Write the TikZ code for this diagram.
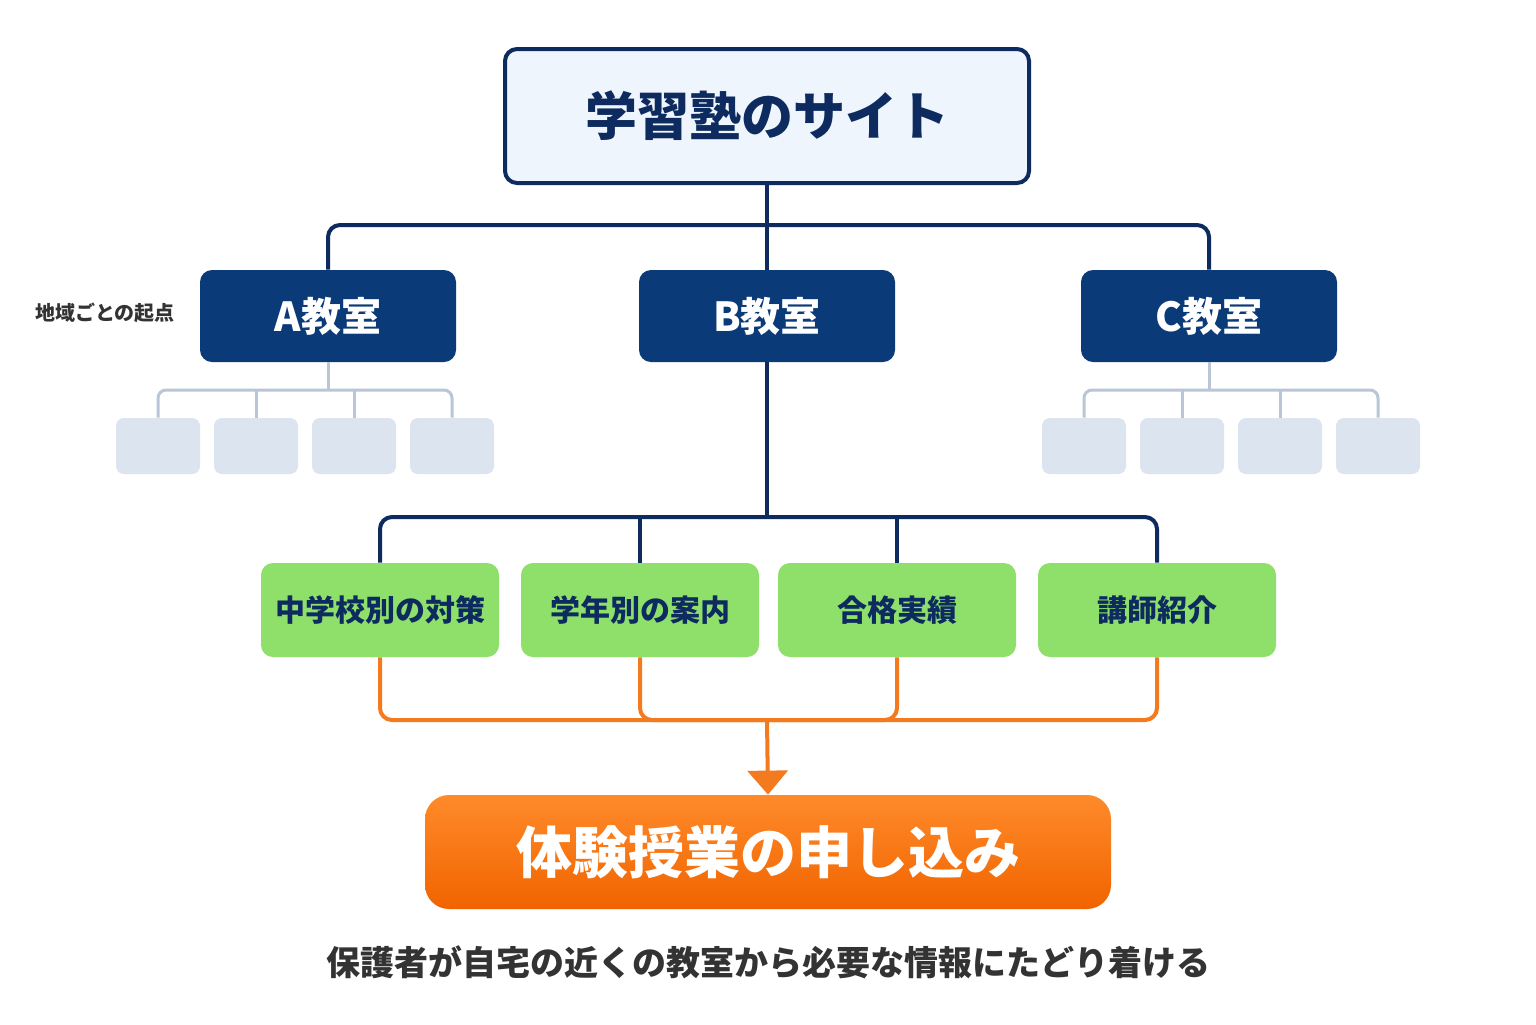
\documentclass[tikz,border=0pt]{standalone}
\usepackage{fontspec}
\newfontfamily\cjk{Noto Sans CJK JP}
\usetikzlibrary{positioning}
\usetikzlibrary{arrows.meta}
\definecolor{navy}{HTML}{0D2B5E}
\definecolor{roomblue}{HTML}{0B3A78}
\definecolor{topfill}{HTML}{EEF5FD}
\definecolor{greyfill}{HTML}{DCE4EF}
\definecolor{greyline}{HTML}{B8C6D8}
\definecolor{greenfill}{HTML}{8EE06A}
\definecolor{orangeline}{HTML}{F47A1F}
\definecolor{orangetop}{HTML}{FF8A2A}
\definecolor{orangebot}{HTML}{F06400}
\definecolor{textgrey}{HTML}{333333}
\begin{document}
\begin{tikzpicture}[
    x=0.5pt, y=-0.5pt,
    every node/.style={font=\cjk\bfseries, align=center, inner sep=0},
    site/.style={draw=navy, line width=2pt, fill=topfill, rounded corners=6pt,
      minimum width=262pt, minimum height=67pt, text=navy, font=\cjk\bfseries\fontsize{26}{30}\selectfont},
    room/.style={fill=roomblue, rounded corners=6pt, minimum width=128pt,
      minimum height=46pt, text=white, font=\cjk\bfseries\fontsize{20}{24}\selectfont},
    sub/.style={fill=greyfill, rounded corners=4pt, minimum width=42pt, minimum height=28pt},
    info/.style={fill=greenfill, rounded corners=6pt, minimum width=119pt,
      minimum height=47pt, text=navy, font=\cjk\bfseries\fontsize{15}{18}\selectfont},
    apply/.style={top color=orangetop, bottom color=orangebot, rounded corners=12pt,
      minimum width=343pt, minimum height=57pt, text=white, font=\cjk\bfseries\fontsize{28}{32}\selectfont},
    navyline/.style={draw=navy, line width=2pt, rounded corners=6pt},
    greyconn/.style={draw=greyline, line width=1.5pt, rounded corners=4pt},
    orangeconn/.style={draw=orangeline, line width=2pt, rounded corners=6pt},
    ]
    \useasboundingbox[fill=white] (0,0) rectangle (1536,1024);

    \node (site) [site] at (767,116) {学習塾のサイト};

    \node (roomA) [room] at (328,316) {A教室};
    \node (roomB) [room] at (767,316) {B教室};
    \node (roomC) [room] at (1209,316) {C教室};
    \node (hint) [font=\cjk\bfseries\fontsize{10}{12}\selectfont, text=textgrey] at (105,313) {地域ごとの起点};

    \foreach \x/\n in {158/1,256/2,354/3,452/4}{
      \node (a\n) [sub] at (\x,446) {};
    }
    \foreach \x/\n in {1084/1,1182/2,1280/3,1378/4}{
      \node (c\n) [sub] at (\x,446) {};
    }

    \node (school) [info] at (380,610) {中学校別の対策};
    \node (grade) [info] at (640,610) {学年別の案内};
    \node (result) [info] at (897,610) {合格実績};
    \node (teacher) [info] at (1157,610) {講師紹介};

    \node (trial) [apply] at (768,852) {体験授業の申し込み};
    \node (note) [text=textgrey, font=\cjk\bfseries\fontsize{17}{20}\selectfont] at (768,962)
      {保護者が自宅の近くの教室から必要な情報にたどり着ける};

    % site to rooms
    \draw[navyline] (site.south) -- (roomB.north);
    \draw[navyline] (roomA.north) |- (767,225) -| (roomC.north);

    % grey branches
    \coordinate (aj) at (328,390);
    \coordinate (cj) at (1209,390);
    \draw[greyconn] (roomA.south) -- (aj);
    \draw[greyconn] (a1.north) |- (aj) -| (a4.north);
    \draw[greyconn] (a2.north) -- (a2.north |- aj);
    \draw[greyconn] (a3.north) -- (a3.north |- aj);
    \draw[greyconn] (roomC.south) -- (cj);
    \draw[greyconn] (c1.north) |- (cj) -| (c4.north);
    \draw[greyconn] (c2.north) -- (c2.north |- cj);
    \draw[greyconn] (c3.north) -- (c3.north |- cj);

    % B to info pages
    \coordinate (bj) at (767,517);
    \draw[navyline] (roomB.south) -- (bj);
    \draw[navyline] (school.north) |- (bj) -| (teacher.north);
    \draw[navyline] (grade.north) -- (grade.north |- bj);
    \draw[navyline] (result.north) -- (result.north |- bj);

    % info pages to trial
    \coordinate (oj) at (767,720);
    \draw[orangeconn] (school.south) |- (oj) -| (teacher.south);
    \draw[orangeconn] (grade.south) |- (oj) -| (result.south);
    \draw[draw=orangeline, line width=2pt, -{Triangle[length=12pt,width=20pt]}] (oj) -- (trial.north);
  \end{tikzpicture}
\end{document}
